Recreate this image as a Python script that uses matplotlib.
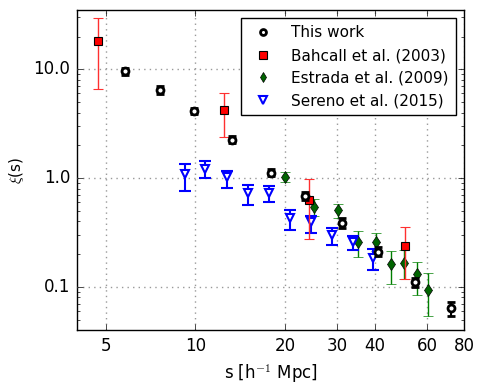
import matplotlib
matplotlib.use("Agg")
import matplotlib.pyplot as plt
import numpy as np
from matplotlib.lines import Line2D
from matplotlib.ticker import FixedLocator, FormatStrFormatter, NullLocator

# This work
tw_s = [5.8, 7.6, 9.9, 13.3, 17.9, 23.3, 31.0, 41.2, 54.5, 72.3]
tw_xi = [9.6, 6.4, 4.13, 2.26, 1.12, 0.68, 0.389, 0.211, 0.111, 0.0637]
tw_lo = [8.8, 5.9, 3.85, 2.1, 1.04, 0.63, 0.35, 0.192, 0.099, 0.054]
tw_hi = [10.3, 6.95, 4.43, 2.43, 1.2, 0.74, 0.43, 0.232, 0.121, 0.0733]

# Bahcall et al. (2003)
ba_s = [4.71, 12.5, 24.0, 50.5]
ba_xi = [18.2, 4.22, 0.63, 0.239]
ba_lo = [6.6, 2.4, 0.277, 0.117]
ba_hi = [29.9, 6.05, 0.975, 0.357]

# Estrada et al. (2009)
es_s = [20.0, 25.1, 30.2, 35.3, 40.3, 45.3, 50.3, 55.5, 60.7]
es_xi = [1.03, 0.546, 0.505, 0.26, 0.256, 0.161, 0.166, 0.131, 0.0937]
es_lo = [0.92, 0.451, 0.43, 0.189, 0.215, 0.107, 0.117, 0.084, 0.0545]
es_hi = [1.14, 0.638, 0.58, 0.328, 0.311, 0.212, 0.217, 0.17, 0.134]

# Sereno et al. (2015)
se_s = [9.2, 10.8, 12.8, 15.0, 17.6, 20.8, 24.4, 28.7, 33.8, 39.5]
se_xi = [1.08, 1.22, 1.02, 0.724, 0.735, 0.432, 0.394, 0.297, 0.26, 0.186]
se_lo = [0.76, 1.0, 0.81, 0.57, 0.60, 0.33, 0.316, 0.245, 0.218, 0.143]
se_hi = [1.35, 1.43, 1.16, 0.86, 0.84, 0.51, 0.45, 0.345, 0.296, 0.221]

x_ticks = [5, 10, 20, 30, 40, 60, 80]


def yerr(xi, lo, hi):
    xi = np.asarray(xi)
    return [xi - np.asarray(lo), np.asarray(hi) - xi]


plt.style.use("classic")
plt.rcParams["font.family"] = "DejaVu Sans"

fig = plt.figure(figsize=(4.85, 3.88), dpi=100)
ax = fig.add_axes([0.159, 0.149, 0.798, 0.825])

styles = [
    dict(fmt="o", mfc="white", mec="k", mew=2, ms=5, ecolor="k", elinewidth=1.5,
         capsize=3, capthick=1.5, zorder=5),
    dict(fmt="s", mfc="red", mec="k", mew=0.8, ms=6, ecolor="#ff3030", elinewidth=1,
         capsize=3.5, zorder=4),
    dict(fmt="d", mfc="darkgreen", mec="k", mew=0.5, ms=6, ecolor="green",
         elinewidth=1, capsize=3.5, zorder=3),
    dict(fmt="v", mfc="white", mec="blue", mew=1.5, ms=6, ecolor="blue",
         elinewidth=1.5, capsize=4, capthick=1.5, zorder=3),
]
series = [
    (tw_s, tw_xi, tw_lo, tw_hi, "This work"),
    (ba_s, ba_xi, ba_lo, ba_hi, "Bahcall et al. (2003)"),
    (es_s, es_xi, es_lo, es_hi, "Estrada et al. (2009)"),
    (se_s, se_xi, se_lo, se_hi, "Sereno et al. (2015)"),
]

handles = []
for (s, xi, lo, hi, label), st in zip(series, styles):
    ax.errorbar(s, xi, yerr=yerr(xi, lo, hi), **st)
    handles.append(Line2D([], [], linestyle="none", marker=st["fmt"], mfc=st["mfc"],
                          mec=st["mec"], mew=st["mew"], ms=st["ms"] * 0.85, label=label))

ax.set_xscale("log")
ax.set_yscale("log")
ax.set_xlim(4.0, 80)
ax.set_ylim(0.04, 35)
ax.xaxis.set_major_locator(FixedLocator(x_ticks))
ax.xaxis.set_minor_locator(NullLocator())
ax.xaxis.set_major_formatter(FormatStrFormatter("%d"))
ax.yaxis.set_major_formatter(FormatStrFormatter("%.1f"))
ax.tick_params(labelsize=12, pad=5)
ax.grid(True, which="major", color="0.6", linestyle=":", linewidth=1)

ax.set_xlabel(r"s [h$^{-1}$ Mpc]", fontsize=12)
ax.set_ylabel(r"$\xi$(s)", fontsize=11)
ax.legend(handles=handles, loc="upper right", numpoints=1, fontsize=11,
          handlelength=2.0, borderpad=0.45, labelspacing=0.5, handletextpad=0.85,
          bbox_to_anchor=(1, 1), borderaxespad=0.55)

fig.savefig("out.png", dpi=100)
